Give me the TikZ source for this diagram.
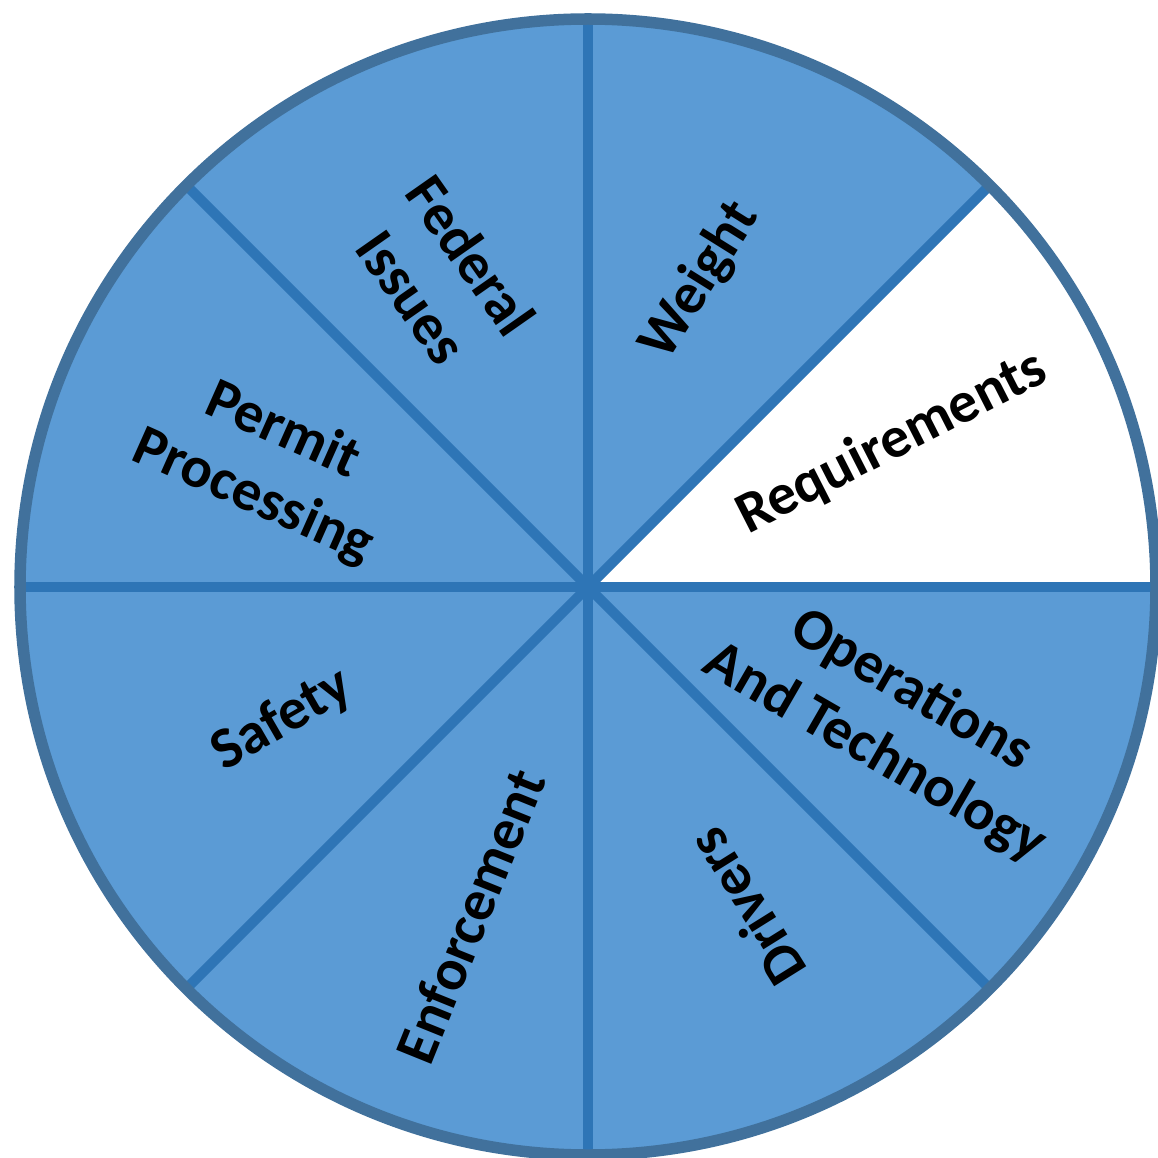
\documentclass[tikz,border=0pt]{standalone}
\usepackage{fontspec}
\setmainfont{Carlito}
\definecolor{wedgeblue}{HTML}{5B9BD5}
\definecolor{spokeblue}{HTML}{2E75B6}
\definecolor{rimblue}{HTML}{41719C}

\begin{document}
\begin{tikzpicture}[x=0.01cm,y=-0.01cm,
  slicetext/.style={font=\fontsize{16.6}{20.5}\selectfont\bfseries,align=center,inner sep=0pt},
  spoke/.style={draw=spokeblue,line width=0.1cm},
  rim/.style={draw=rimblue,line width=0.115cm}]
  \useasboundingbox (0,0) rectangle (1158,1158);
  \coordinate (hub) at (588,587);
  \fill[wedgeblue] (hub) circle (568);
  \fill[white] (hub) -- ++(0:568) arc (0:-45:568) -- cycle;
  \foreach \a in {0,45,...,315}
    \draw[spoke] (hub) -- ++(\a:568);
  \draw[rim] (hub) circle (568);
  % slice labels
  \node[slicetext,rotate=58] (weight) at (700,281) {Weight};
  \node[slicetext,rotate=27] (req) at (892,443) {Requirements};
  \node[slicetext,rotate=-55] (federal) at (442,276) {Federal\\Issues};
  \node[slicetext,rotate=-24] (permit) at (268,464) {Permit\\Processing};
  \node[slicetext,rotate=30] (safety) at (282,720) {Safety};
  \node[slicetext,rotate=68] (enforce) at (470,916) {Enforcement};
  \node[slicetext,rotate=122] (drivers) at (746,907) {Drivers};
  \node[slicetext,rotate=-30] (ops) at (893,722) {Operations\\And Technology};
\end{tikzpicture}
\end{document}
